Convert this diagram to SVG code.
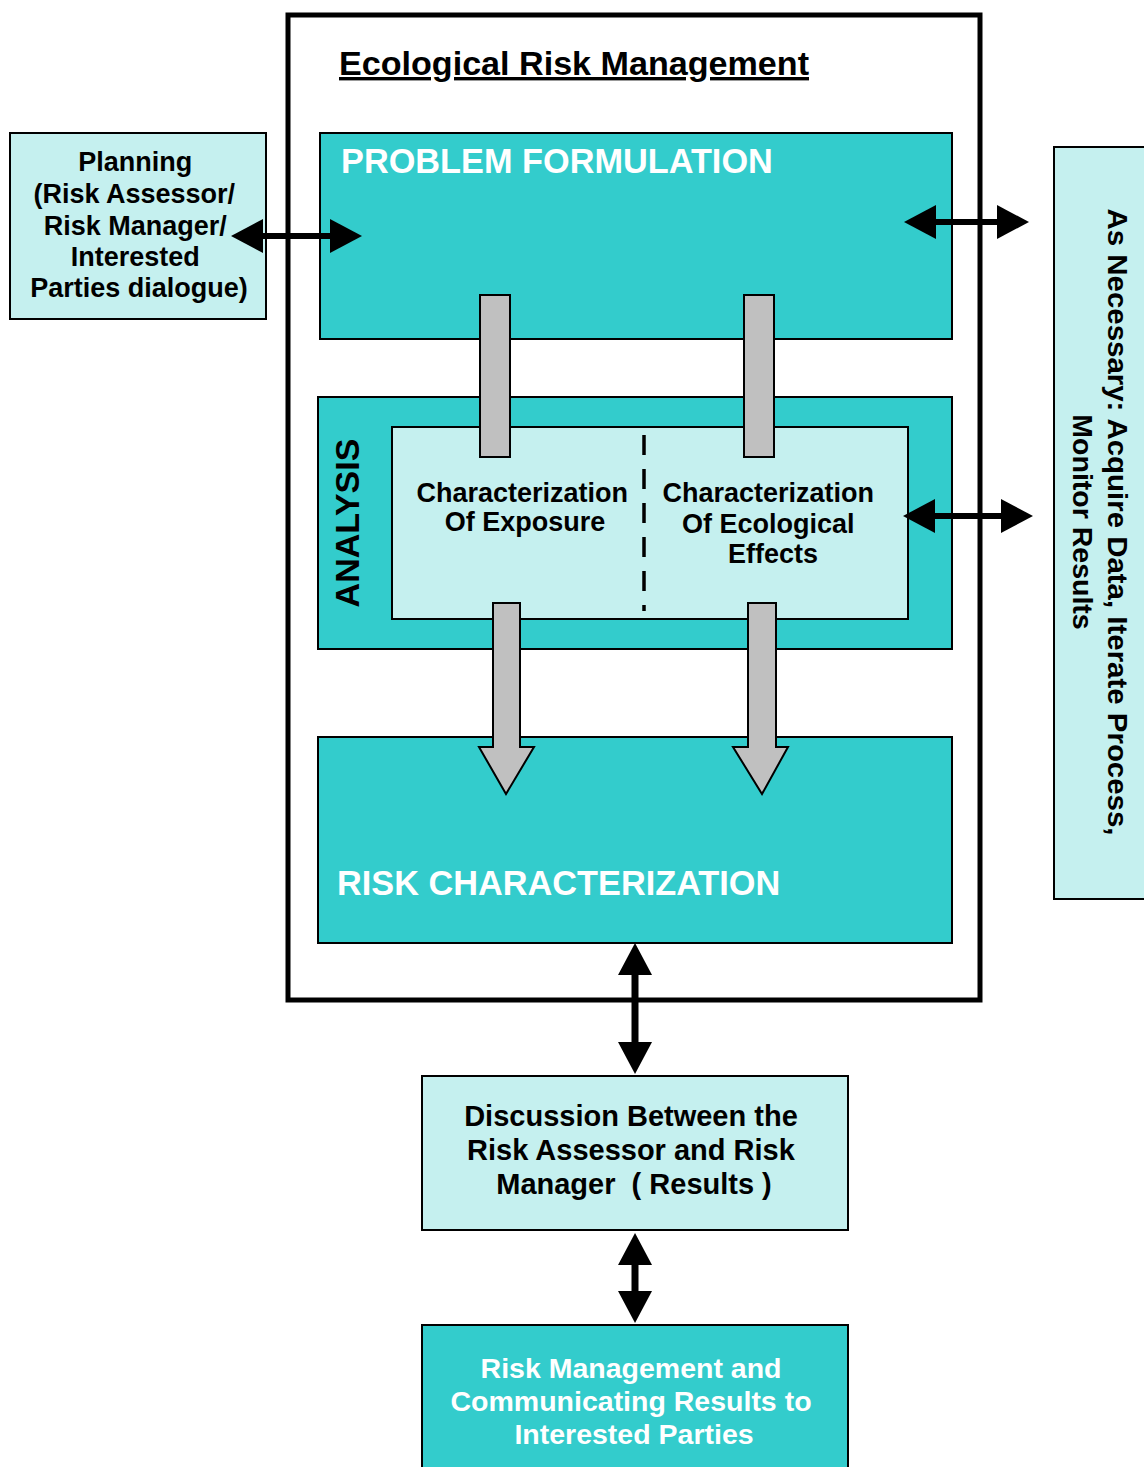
<svg xmlns="http://www.w3.org/2000/svg" width="1144" height="1467" viewBox="0 0 1144 1467">
<defs>
<style>
text{font-family:"Liberation Sans",Arial,sans-serif;font-weight:bold;}
.teal{fill:#33CCCC;stroke:#000;stroke-width:2;}
.light{fill:#C5F0EF;stroke:#000;stroke-width:2;}
.gray{fill:#C0C0C0;stroke:#000;stroke-width:2;stroke-linejoin:miter;}
.dark{fill:#000;}
.wht{fill:#fff;}
.conn{stroke:#000;fill:none;marker-start:url(#ah);marker-end:url(#ah);}
.h{stroke-width:6;}
.v{stroke-width:7;}
</style>
<marker id="ah" viewBox="0 0 32 34" refX="0" refY="17" markerWidth="32" markerHeight="34" markerUnits="userSpaceOnUse" orient="auto-start-reverse">
<path d="M0,0 L32,17 L0,34 Z" fill="#000"/>
</marker>
</defs>
<rect width="1144" height="1467" fill="#fff"/>

<g id="outer">
<rect x="288" y="15" width="692" height="985" fill="none" stroke="#000" stroke-width="5"/>
<text x="339" y="75" font-size="34" textLength="470" lengthAdjust="spacingAndGlyphs" class="dark" text-decoration="underline">Ecological Risk Management</text>
</g>

<g id="planning">
<rect x="10" y="133" width="256" height="186" class="light"/>
<text text-anchor="middle" font-size="27" class="dark">
<tspan x="139" y="171">Planning</tspan>
<tspan x="138" y="203">(Risk Assessor/</tspan>
<tspan x="139" y="235">Risk Manager/</tspan>
<tspan x="139" y="266">Interested</tspan>
<tspan x="139" y="297">Parties dialogue)</tspan>
</text>
</g>

<g id="problem-formulation">
<rect x="320" y="133" width="632" height="206" class="teal"/>
<text x="341" y="173" font-size="34.3" class="wht">PROBLEM FORMULATION</text>
</g>

<g id="analysis">
<rect x="318" y="397" width="634" height="252" class="teal"/>
<text transform="translate(359,523) rotate(-90)" text-anchor="middle" font-size="34" class="dark">ANALYSIS</text>
</g>

<g id="analysis-inner">
<rect x="392" y="427" width="516" height="192" class="light"/>
<line x1="644" y1="435" x2="644" y2="611" stroke="#000" stroke-width="3.5" stroke-dasharray="20 14"/>
</g>

<g id="exposure">
<text text-anchor="middle" font-size="27" class="dark">
<tspan x="526" y="502">Characterization</tspan>
<tspan x="525" y="531">Of Exposure</tspan>
</text>
</g>

<g id="effects">
<text text-anchor="middle" font-size="27" class="dark">
<tspan x="772" y="502">Characterization</tspan>
<tspan x="772" y="533">Of Ecological</tspan>
<tspan x="773" y="563">Effects</tspan>
</text>
</g>

<g id="risk-characterization">
<rect x="318" y="737" width="634" height="206" class="teal"/>
<text x="337" y="895" font-size="34.3" class="wht">RISK CHARACTERIZATION</text>
</g>

<g id="iterate">
<rect x="1054" y="147" width="100" height="752" class="light"/>
<text transform="translate(1108,522) rotate(90)" text-anchor="middle" font-size="28" textLength="627" lengthAdjust="spacingAndGlyphs" class="dark">As Necessary: Acquire Data, Iterate Process,</text>
<text transform="translate(1073,522) rotate(90)" text-anchor="middle" font-size="28.5" class="dark">Monitor Results</text>
</g>

<g id="discussion">
<rect x="422" y="1076" width="426" height="154" class="light"/>
<text text-anchor="middle" font-size="29" class="dark">
<tspan x="635" y="1126">Discussion Between the</tspan>
<tspan x="635" y="1160">Risk Assessor and Risk</tspan>
<tspan x="634" y="1194" xml:space="preserve">Manager  ( Results )</tspan>
</text>
</g>

<g id="risk-management">
<rect x="422" y="1325" width="426" height="160" class="teal"/>
<text text-anchor="middle" font-size="28.5" class="wht">
<tspan x="635" y="1378">Risk Management and</tspan>
<tspan x="635" y="1411">Communicating Results to</tspan>
<tspan x="634" y="1444">Interested Parties</tspan>
</text>
</g>

<g id="connectors">
<rect x="480" y="295" width="30" height="162" class="gray"/>
<rect x="744" y="295" width="30" height="162" class="gray"/>
<polygon points="493,603 520,603 520,747 534,747 506,794 479,747 493,747" class="gray"/>
<polygon points="748,603 776,603 776,747 788,747 762,794 733,747 748,747" class="gray"/>
<line x1="263" y1="236" x2="330" y2="236" class="conn h"/>
<line x1="936" y1="222" x2="997" y2="222" class="conn h"/>
<line x1="935" y1="516" x2="1001" y2="516" class="conn h"/>
<line x1="635" y1="975" x2="635" y2="1042" class="conn v"/>
<line x1="635" y1="1265" x2="635" y2="1291" class="conn v"/>
</g>
</svg>
